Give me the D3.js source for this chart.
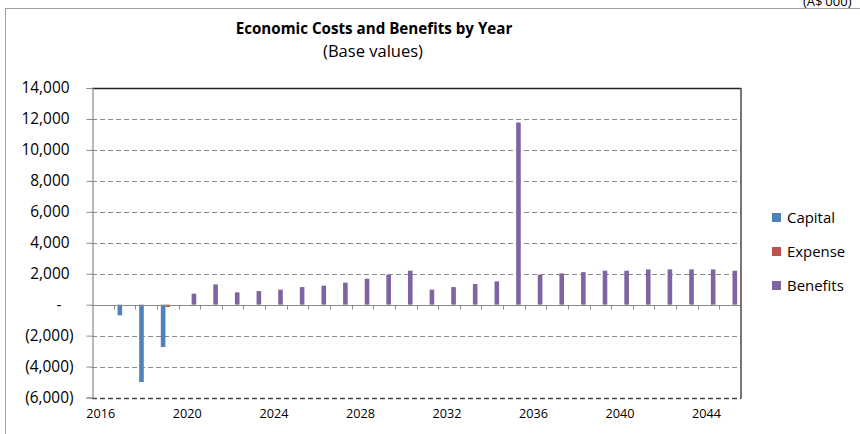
<!DOCTYPE html>
<html><head><meta charset="utf-8">
<script src="https://cdn.jsdelivr.net/npm/d3@7"></script>
<style>body{margin:0;background:#fff}svg{display:block;font-family:"Open Sans",sans-serif}</style>
</head><body><svg id="c" width="860" height="434"></svg>
<script>
const years = d3.range(2016, 2046);
const capital = [0,-690,-5000,-2735,0,0,0,0,0,0,0,0,0,0,0,0,0,0,0,0,0,0,0,0,0,0,0,0,0,0];
const expense = [0,0,0,-150,0,0,0,0,0,0,0,0,0,0,0,0,0,0,0,0,0,0,0,0,0,0,0,0,0,0];
const benefits = [0,0,0,0,710,1310,794,877,968,1135,1226,1420,1677,1935,2194,968,1135,1330,1505,11770,1935,2020,2100,2194,2194,2277,2277,2277,2277,2194];
const seriesNames = ["Capital","Expense","Benefits"];
const colors = ["#4f81bd","#c0504d","#8064a2"];
const yTicks = [-6000,-4000,-2000,0,2000,4000,6000,8000,10000,12000,14000];
const xLabels = [2016,2020,2024,2028,2032,2036,2040,2044];

const svg = d3.select("#c");
const L = 92, R = 741, T = 88, B = 397.5;
const x = d3.scaleBand().domain(years).range([L, R]).padding(0);
const y = d3.scaleLinear().domain([-6000, 14000]).range([B, T]);

function fit(sel, target, base) {
  sel.attr("font-size", base);
  const w = sel.node().getComputedTextLength();
  sel.attr("font-size", (base * target / w).toFixed(2));
}

// outer frame
svg.append("rect").attr("x",5.5).attr("y",8.5).attr("width",900).attr("height",500)
  .attr("fill","none").attr("stroke","#a0a0a0").attr("stroke-width",1);
svg.append("text").attr("x",803).attr("y",6).attr("font-size",13).attr("fill","#000").text("(A$'000)");

// title
const t1 = svg.append("text").attr("x",374).attr("y",34).attr("text-anchor","middle")
  .attr("font-weight","bold").text("Economic Costs and Benefits by Year");
fit(t1, 277, 13);
const t2 = svg.append("text").attr("x",373).attr("y",57).attr("text-anchor","middle")
  .text("(Base values)");
fit(t2, 100, 13);

// gridlines
svg.append("g").selectAll("line").data(yTicks.filter(d=>d!==0 && d!==14000)).join("line")
  .attr("x1",L).attr("x2",R).attr("y1",d=>Math.round(y(d))+0.5).attr("y2",d=>Math.round(y(d))+0.5)
  .attr("stroke",d=>d===-6000?"#444":"#8a8a8a").attr("stroke-width",d=>d===-6000?1.5:1)
  .attr("stroke-dasharray","5,3");

// bars
const bw = 4.6;
const sub = d3.scaleBand().domain(seriesNames).range([-bw*1.5, bw*1.5]);
const data = [capital, expense, benefits];
seriesNames.forEach((s, i) => {
  svg.append("g").selectAll("rect").data(years.map((yr,j)=>({yr, v:data[i][j]})).filter(d=>d.v!==0)).join("rect")
    .attr("x", d => x(d.yr) + x.bandwidth()/2 + sub(s))
    .attr("width", sub.bandwidth())
    .attr("y", d => y(Math.max(0,d.v)))
    .attr("height", d => Math.abs(y(d.v)-y(0)))
    .attr("fill", colors[i]);
});

// zero line and category ticks
const y0 = Math.round(y(0))+0.5;
svg.append("line").attr("x1",L).attr("x2",R).attr("y1",y0).attr("y2",y0).attr("stroke","#8a8a8a").attr("stroke-width",1.2);
svg.append("g").selectAll("line").data(years.slice(1)).join("line")
  .attr("x1",d=>Math.round(x(d))+0.5).attr("x2",d=>Math.round(x(d))+0.5).attr("y1",y0).attr("y2",y0+4)
  .attr("stroke","#8a8a8a");

// plot border top/right
svg.append("line").attr("x1",L).attr("x2",R).attr("y1",T+0.5).attr("y2",T+0.5).attr("stroke","#222").attr("stroke-width",1.3);
svg.append("line").attr("x1",R).attr("x2",R).attr("y1",T).attr("y2",B+1).attr("stroke","#555").attr("stroke-width",1.6);

// y axis
const fmt = d3.format(",");
const yAxis = d3.axisLeft(y).tickValues(yTicks).tickSize(6).tickPadding(14)
  .tickFormat(d => d===0 ? "-" : (d<0 ? "(" + fmt(-d) + ")" : fmt(d)));
const ga = svg.append("g").attr("transform",`translate(${L+0.5},0)`).call(yAxis);
ga.select(".domain").attr("stroke","#8a8a8a").attr("stroke-width",1.2);
ga.selectAll(".tick line").attr("stroke","#8a8a8a");
const ytxt = ga.selectAll(".tick text").attr("fill","#000").attr("font-family","'Open Sans',sans-serif");
fit(ga.select(".tick:last-child text"), 48, 13);
const yfs = ga.select(".tick:last-child text").attr("font-size");
ytxt.attr("font-size", yfs).attr("x", d => d < 0 ? -19 : (d === 0 ? -31 : -23));

// x labels
const xl = svg.append("g").selectAll("text").data(xLabels).join("text")
  .attr("x", d => x(d) + x.bandwidth()/2 - 2).attr("y", 418).attr("text-anchor","middle")
  .text(d=>d);
fit(d3.select(xl.nodes()[0]), 29, 12);
xl.attr("font-size", d3.select(xl.nodes()[0]).attr("font-size"));

// legend
const lg = svg.append("g").selectAll("g").data(seriesNames).join("g")
  .attr("transform",(d,i)=>`translate(772,${213 + i*34})`);
lg.append("rect").attr("width",9).attr("height",9).attr("fill",(d,i)=>colors[i]);
const lt = lg.append("text").attr("x",15).attr("y",10).text(d=>d);
fit(d3.select(lt.nodes()[0]), 48, 14);
lt.attr("font-size", d3.select(lt.nodes()[0]).attr("font-size"));
</script></body></html>
